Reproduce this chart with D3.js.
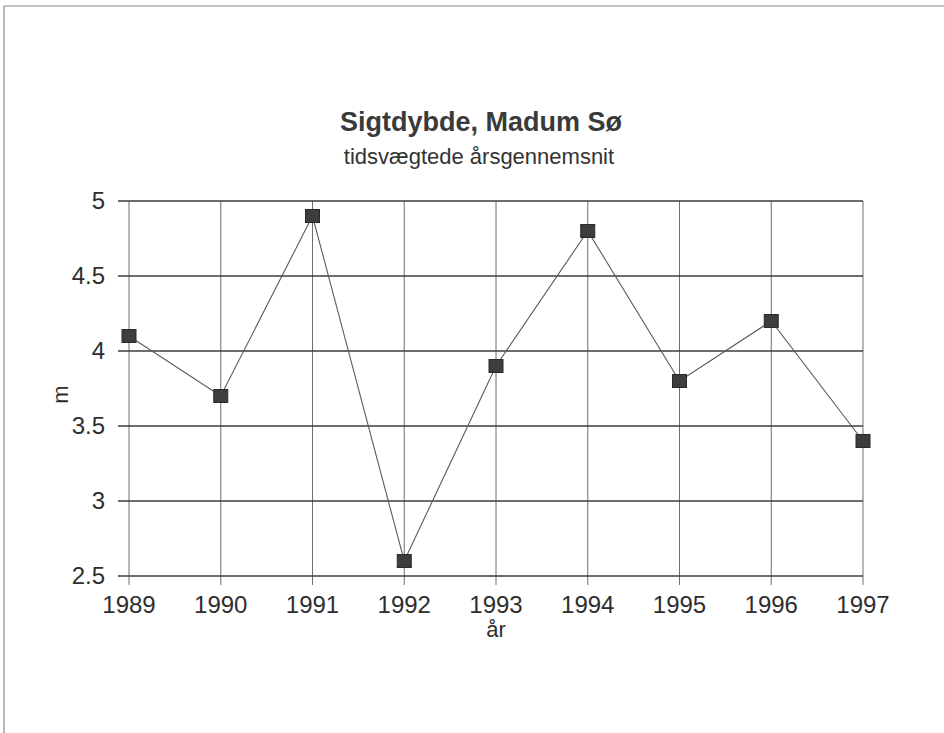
<!DOCTYPE html>
<html>
<head>
<meta charset="utf-8">
<script src="https://cdn.jsdelivr.net/npm/d3@7"></script>
<style>
  body { margin: 0; background: #fff; }
  svg { display: block; font-family: "Liberation Sans", Arial, sans-serif; }
</style>
</head>
<body>
<svg id="chart"></svg>
<script>
// Data
const years = [1989, 1990, 1991, 1992, 1993, 1994, 1995, 1996, 1997];
const depth = [4.1, 3.7, 4.9, 2.6, 3.9, 4.8, 3.8, 4.2, 3.4];
const yTicks = [2.5, 3, 3.5, 4, 4.5, 5];

const W = 944, H = 733;
const svg = d3.select("#chart").attr("width", W).attr("height", H);

// page frame from the scan
svg.append("path")
  .attr("d", `M4,${H} L4,6 L${W},6`)
  .attr("fill", "none")
  .attr("stroke", "#8a8a8a")
  .attr("stroke-width", 1.2);

const margin = { left: 129, right: 81, top: 201, bottom: 157 };
const width = W - margin.left - margin.right;
const height = H - margin.top - margin.bottom;

const g = svg.append("g").attr("transform", `translate(${margin.left},${margin.top})`);

const x = d3.scalePoint().domain(years).range([0, width]);
const y = d3.scaleLinear().domain([2.5, 5]).range([height, 0]);

// vertical grid lines (lighter), extending below as tick marks
g.append("g")
  .selectAll("line")
  .data(years)
  .enter()
  .append("line")
  .attr("x1", (d) => x(d))
  .attr("x2", (d) => x(d))
  .attr("y1", 0)
  .attr("y2", height + 9)
  .attr("stroke", "#6e6e6e")
  .attr("stroke-width", 1);

// horizontal grid lines (darker), extending left as tick marks
g.append("g")
  .selectAll("line")
  .data(yTicks)
  .enter()
  .append("line")
  .attr("x1", -11)
  .attr("x2", width)
  .attr("y1", (d) => y(d))
  .attr("y2", (d) => y(d))
  .attr("stroke", "#3c3c3c")
  .attr("stroke-width", 1.3);

// y tick labels
g.append("g")
  .selectAll("text")
  .data(yTicks)
  .enter()
  .append("text")
  .attr("x", -24)
  .attr("y", (d) => y(d) + 8)
  .attr("text-anchor", "end")
  .style("font-size", "24px")
  .style("fill", "#2e2e2e")
  .text((d) => d);

// x tick labels
g.append("g")
  .selectAll("text")
  .data(years)
  .enter()
  .append("text")
  .attr("x", (d) => x(d))
  .attr("y", height + 37)
  .attr("text-anchor", "middle")
  .style("font-size", "24px")
  .style("fill", "#2e2e2e")
  .text((d) => d);

// axis titles
g.append("text")
  .attr("x", x(1993))
  .attr("y", height + 61)
  .attr("text-anchor", "middle")
  .style("font-size", "22px")
  .style("fill", "#2e2e2e")
  .text("år");

g.append("text")
  .attr("transform", `translate(-61,${height / 2 + 6}) rotate(-90)`)
  .attr("text-anchor", "middle")
  .style("font-size", "22px")
  .style("fill", "#2e2e2e")
  .text("m");

// title
svg.append("text")
  .attr("x", 481)
  .attr("y", 131)
  .attr("text-anchor", "middle")
  .style("font-size", "27px")
  .style("font-weight", "bold")
  .style("fill", "#3a3a3a")
  .text("Sigtdybde, Madum Sø");

svg.append("text")
  .attr("x", 479)
  .attr("y", 164)
  .attr("text-anchor", "middle")
  .style("font-size", "22px")
  .style("fill", "#333")
  .text("tidsvægtede årsgennemsnit");

// series line
const pts = years.map((yr, i) => ({ year: yr, value: depth[i] }));
const line = d3.line()
  .x((d) => x(d.year))
  .y((d) => y(d.value));

g.append("path")
  .datum(pts)
  .attr("fill", "none")
  .attr("stroke", "#5a5a5a")
  .attr("stroke-width", 1.1)
  .attr("d", line);

// square markers
g.selectAll(".marker")
  .data(pts)
  .enter()
  .append("rect")
  .attr("class", "marker")
  .attr("x", (d) => x(d.year) - 7)
  .attr("y", (d) => y(d.value) - 6.5)
  .attr("width", 14)
  .attr("height", 13)
  .attr("fill", "#3d3d3d")
  .attr("stroke", "#2a2a2a")
  .attr("stroke-width", 1);
</script>
</body>
</html>
